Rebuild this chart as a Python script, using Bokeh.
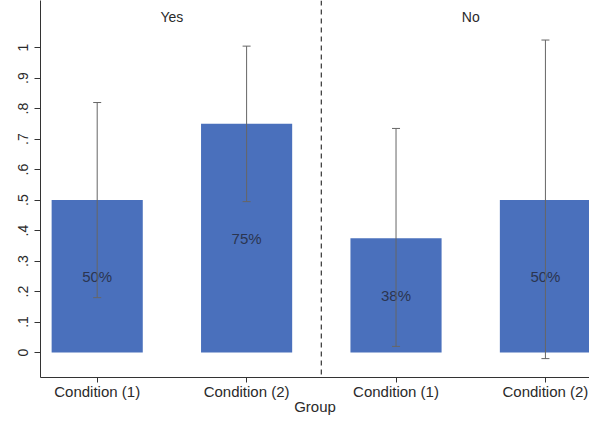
from bokeh.plotting import figure
from bokeh.models import ColumnDataSource, FixedTicker, Whisker, TeeHead, Span, Range1d
from bokeh.embed import file_html
from bokeh.resources import INLINE
from bokeh.core.properties import value

# ---- data ----
groups = ["Yes", "Yes", "No", "No"]
conditions = ["Condition (1)", "Condition (2)", "Condition (1)", "Condition (2)"]
means = [0.50, 0.75, 0.375, 0.50]
ci_lower = [0.18, 0.495, 0.02, -0.02]
ci_upper = [0.82, 1.005, 0.735, 1.025]
group_names = ["Yes", "No"]
y_ticks = [0, 0.1, 0.2, 0.3, 0.4, 0.5, 0.6, 0.7, 0.8, 0.9, 1.0]
y_tick_labels = ["0", ".1", ".2", ".3", ".4", ".5", ".6", ".7", ".8", ".9", "1"]

FONT = "Liberation Sans"
BAR = "#4A70BC"
TXT = "#2a2a2a"

xs = [i + 1 for i in range(len(means))]
pct = [f"{round(m * 100):.0f}%" for m in means]

src = ColumnDataSource(dict(x=xs, top=means, lower=ci_lower, upper=ci_upper,
                            mid=[m / 2 for m in means], pct=pct))

p = figure(width=589, height=417, output_backend="svg", toolbar_location=None,
           x_range=Range1d(0.6205, 4.295), y_range=Range1d(-0.082, 1.1547),
           min_border_left=40, min_border_right=0, min_border_top=0, min_border_bottom=0)
p.outline_line_color = None
p.grid.visible = False
p.background_fill_color = "white"
p.border_fill_color = "white"

p.vbar(x="x", top="top", bottom=0, width=0.61, source=src, fill_color=BAR, line_color=None)

w = Whisker(base="x", lower="lower", upper="upper", source=src,
            line_color="#666666", line_width=1, level="annotation",
            upper_head=TeeHead(size=8, line_color="#666666", line_width=1),
            lower_head=TeeHead(size=8, line_color="#666666", line_width=1))
p.add_layout(w)

p.text(x="x", y="mid", text="pct", source=src, text_align="center", text_baseline="middle",
       text_font=value(FONT), text_font_size="15px", text_color="#2b3550")

# group divider and group titles
gpos = {}
for g, x in zip(groups, xs):
    gpos.setdefault(g, []).append(x)
divider = (max(gpos[group_names[0]]) + min(gpos[group_names[1]])) / 2
p.add_layout(Span(location=divider, dimension="height", line_color="#333333",
                  line_width=1.2, line_dash="5 4"))
gx = [sum(gpos[g]) / len(gpos[g]) for g in group_names]
p.text(x=gx, y=[1.099] * len(gx), text=group_names, text_align="center",
       text_baseline="middle", text_font=value(FONT), text_font_size="14px",
       text_color=TXT)

# axes
ya = p.yaxis[0]
ya.ticker = FixedTicker(ticks=y_ticks)
ya.major_label_overrides = {t: l for t, l in zip(y_ticks, y_tick_labels)}
ya.major_label_orientation = "vertical"
ya.minor_tick_line_color = None
ya.major_tick_in = 0
ya.major_tick_out = 6
ya.major_label_standoff = 6
ya.major_label_text_font = FONT
ya.major_label_text_font_size = "14px"
ya.major_label_text_color = TXT
ya.axis_line_color = "#333333"
ya.major_tick_line_color = "#333333"

xa = p.xaxis[0]
xa.ticker = FixedTicker(ticks=xs)
xa.major_label_overrides = {x: c for x, c in zip(xs, conditions)}
xa.minor_tick_line_color = None
xa.major_tick_in = 0
xa.major_tick_out = 5
xa.major_label_standoff = 0
xa.major_label_text_font = FONT
xa.major_label_text_font_size = "15px"
xa.major_label_text_color = TXT
xa.axis_label = "Group"
xa.axis_label_standoff = -5
xa.axis_label_text_font = FONT
xa.axis_label_text_font_size = "15px"
xa.axis_label_text_font_style = "normal"
xa.axis_label_text_color = TXT
xa.axis_line_color = "#333333"
xa.major_tick_line_color = "#333333"

open("out.html", "w").write(file_html(p, INLINE))
